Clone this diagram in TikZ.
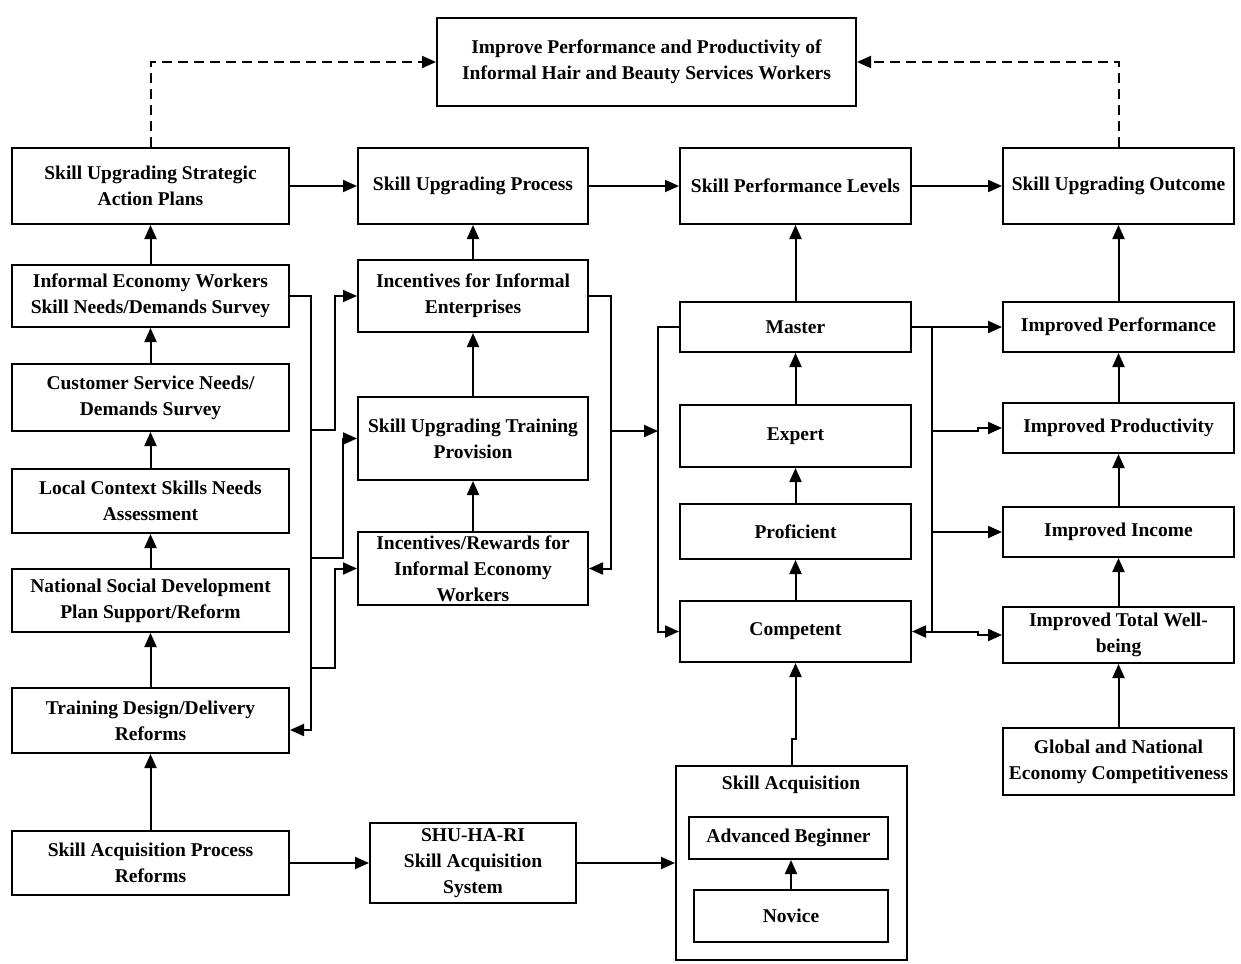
\documentclass[tikz,border=0pt]{standalone}
\usepackage{fontspec}
\setmainfont{Liberation Serif}
\usetikzlibrary{arrows.meta,calc}
\tikzset{
  box/.style={draw, line width=1pt, inner sep=0pt, align=center,
    font=\bfseries\fontsize{9.75}{13}\selectfont},
  lbl/.style={inner sep=0pt, font=\bfseries\fontsize{9.75}{13}\selectfont},
  arr/.style={line width=1pt, -{Triangle[length=7pt,width=6pt]}},
  dsh/.style={arr, dash pattern=on 5pt off 3pt},
}
\newcommand\bx[6]{\node[box, minimum width={(#4-#2)*0.5pt}, minimum height={(#5-#3)*0.5pt}] (#1) at ({(#2+#4)/2},{(#3+#5)/2}) {#6};}
\begin{document}
\begin{tikzpicture}[x=0.5pt,y=-0.5pt]
\useasboundingbox (0,0) rectangle (1241,963);
% top
\bx{top}{437}{18}{856}{106}{Improve Performance and Productivity of\\Informal Hair and Beauty Services Workers}
% row 1
\bx{sap}{12}{148}{289}{224}{Skill Upgrading Strategic\\Action Plans}
\bx{sup}{358}{148}{588}{224}{Skill Upgrading Process}
\bx{spl}{680}{148}{911}{224}{Skill Performance Levels}
\bx{suo}{1003}{148}{1234}{224}{Skill Upgrading Outcome}
% left column
\bx{ie}{12}{265}{289}{327}{Informal Economy Workers\\Skill Needs/Demands Survey}
\bx{cs}{12}{364}{289}{431}{Customer Service Needs/\\Demands Survey}
\bx{lc}{12}{469}{289}{533}{Local Context Skills Needs\\Assessment}
\bx{ns}{12}{569}{289}{632}{National Social Development\\Plan Support/Reform}
\bx{td}{12}{688}{289}{753}{Training Design/Delivery\\Reforms}
\bx{sar}{12}{831}{289}{895}{Skill Acquisition Process\\Reforms}
% middle column
\bx{iie}{358}{260}{588}{332}{Incentives for Informal\\Enterprises}
\bx{sutp}{358}{397}{588}{480}{Skill Upgrading Training\\Provision}
\bx{irw}{358}{532}{588}{605}{Incentives/Rewards for\\Informal Economy\\Workers}
\bx{shu}{370}{823}{576}{903}{SHU-HA-RI\\Skill Acquisition\\System}
% levels column
\bx{master}{680}{302}{911}{352}{Master}
\bx{expert}{680}{405}{911}{467}{Expert}
\bx{prof}{680}{504}{911}{559}{Proficient}
\bx{comp}{680}{601}{911}{662}{Competent}
\bx{sa}{676}{766}{907}{960}{}
\node[lbl] (satitle) at (791,785) {Skill Acquisition};
\bx{ab}{689}{817}{888}{859}{Advanced Beginner}
\bx{nov}{694}{890}{888}{942}{Novice}
% right column
\bx{ip}{1003}{302}{1234}{352}{Improved Performance}
\bx{iprod}{1003}{403}{1234}{453}{Improved Productivity}
\bx{iinc}{1003}{507}{1234}{557}{Improved Income}
\bx{itw}{1003}{607}{1234}{663}{Improved Total Well-\\being}
\bx{glob}{1003}{728}{1234}{795}{Global and National\\Economy Competitiveness}

% dashed feedback
\draw[dsh] (sap.north) |- (top.west);
\draw[dsh] (suo.north) |- (top.east);
% row 1
\draw[arr] (sap.east) -- (sup.west);
\draw[arr] (sup.east) -- (spl.west);
\draw[arr] (spl.east) -- (suo.west);
% vertical chains
\draw[arr] (ie.north) -- (sap.south);
\draw[arr] (cs.north) -- (ie.south);
\draw[arr] (lc.north) -- (cs.south);
\draw[arr] (ns.north) -- (lc.south);
\draw[arr] (td.north) -- (ns.south);
\draw[arr] (sar.north) -- (td.south);
\draw[arr] (iie.north) -- (sup.south);
\draw[arr] (sutp.north) -- (iie.south);
\draw[arr] (irw.north) -- (sutp.south);
\draw[arr] (master.north) -- (spl.south);
\draw[arr] (expert.north) -- (master.south);
\draw[arr] (prof.north) -- (expert.south);
\draw[arr] (comp.north) -- (prof.south);
\draw[arr] (ip.north) -- (suo.south);
\draw[arr] (iprod.north) -- (ip.south);
\draw[arr] (iinc.north) -- (iprod.south);
\draw[arr] (itw.north) -- (iinc.south);
\draw[arr] (glob.north) -- (itw.south);
% left bus
\coordinate (lbtop) at (311,296);
\coordinate (lbbot) at (311,730);
\draw[arr] (ie.east) -- (lbtop) -- (lbbot) -- (lbbot -| td.east);
\coordinate (lb1) at (311,430);
\coordinate (lb2) at (311,558);
\coordinate (lb3) at (311,668);
\draw[arr] (lb1) -- (335,430) |- (iie.west);
\draw[arr] (lb2) -- (343,558) |- (sutp.west);
\draw[arr] (lb3) -- (335,668) |- (irw.west);
% middle bus
\draw[arr] (iie.east) -- (611,296) |- (irw.east);
\coordinate (mb1) at (611,431);
\coordinate (mb2) at (658,431);
\draw[arr] (mb1) -- (mb2);
\draw[arr] (master.west) -- (658,327) |- (comp.west);
% right bus
\draw[arr] (master.east) -- (ip.west);
\coordinate (rbtop) at (932,327);
\coordinate (rbbot) at (932,631.5);
\draw[arr] (rbtop) -- (rbbot) -- (comp.east);
\coordinate (rb1) at (932,431);
\coordinate (rb2) at (932,532);
\draw[arr] (rb1) -- (978,431) -- (978,428) -- (iprod.west);
\draw[arr] (rb2) -- (iinc.west);
\draw[arr] (rbbot) -- (978,631.5) -- (978,635) -- (itw.west);
% bottom
\draw[arr] (sar.east) -- (shu.west);
\draw[arr] (shu.east) -- (sa.west);
\draw[arr] (nov.north) -- (nov.north |- ab.south);
\draw[arr] (sa.north) -- ++(0,-26) -| (comp.south);
\end{tikzpicture}
\end{document}
